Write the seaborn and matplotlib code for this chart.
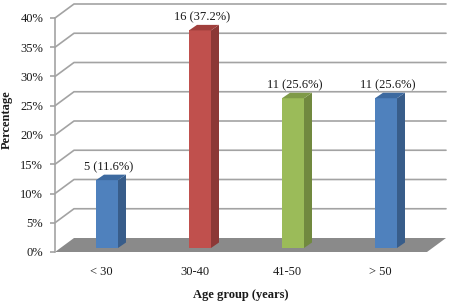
import matplotlib
matplotlib.use("Agg")
import matplotlib.pyplot as plt
import seaborn as sns
from matplotlib.patches import Polygon, Rectangle

# Data
groups = ["< 30", "30-40", "41-50", "> 50"]
percents = [11.6, 37.2, 25.6, 25.6]
counts = [5, 16, 11, 11]
face_colors = ["#4f81bd", "#c0504d", "#9bbb59", "#4f81bd"]
side_colors = ["#385d8a", "#8c3836", "#71893f", "#385d8a"]
top_colors = ["#3d6aa0", "#a03f3c", "#7f9a48", "#3d6aa0"]

sns.set_style("white")
plt.rcParams["font.family"] = ["Liberation Serif", "DejaVu Serif"]

fig = plt.figure(figsize=(4.5, 3.02), dpi=100)
ax = fig.add_axes([55 / 450, 50 / 302, 372 / 450, 234 / 302])

# pixel -> data unit helpers (x: 93 px per category, y: 5.85 px per %)
ux = 372 / 4.0
uy = 234 / 40.0
wall_dx, wall_dy = 19 / ux, 14 / uy      # depth of the back wall
bar_ox, bar_oy = 5.5 / ux, 4 / uy        # bar sits a little behind front plane
bar_dx, bar_dy = 8 / ux, 5.5 / uy        # bar depth

grid_c = "#a3a3a3"
text_c = "#1a1a1a"

# bars
sns.barplot(x=groups, y=percents, hue=groups, palette=face_colors, width=22 / ux,
            legend=False, ax=ax, saturation=1, edgecolor="none", zorder=3)
ax.set_xlim(-0.5, 3.5)
ax.set_ylim(0, 40)
bars = [p for p in ax.patches if isinstance(p, Rectangle)]

# floor
floor = Polygon([(-0.5, 0), (3.5, 0), (3.5 + wall_dx, wall_dy), (-0.5 + wall_dx, wall_dy)],
                closed=True, facecolor="#8a8a8a", edgecolor="none", zorder=1, clip_on=False)
ax.add_patch(floor)

# back wall gridlines with the diagonal connectors
for v in range(5, 45, 5):
    ax.plot([-0.5, -0.5 + wall_dx, 3.5 + wall_dx], [v, v + wall_dy, v + wall_dy],
            color=grid_c, lw=1.2, clip_on=False, zorder=0.5)

for i, p in enumerate(bars):
    x0 = p.get_x() + bar_ox
    w = p.get_width()
    h = p.get_height()
    p.set_x(x0)
    p.set_y(bar_oy)
    y0 = bar_oy
    y1 = bar_oy + h
    side = Polygon([(x0 + w, y0), (x0 + w + bar_dx, y0 + bar_dy),
                    (x0 + w + bar_dx, y1 + bar_dy), (x0 + w, y1)],
                   closed=True, facecolor=side_colors[i], edgecolor="none", zorder=3)
    top = Polygon([(x0, y1), (x0 + w, y1), (x0 + w + bar_dx, y1 + bar_dy), (x0 + bar_dx, y1 + bar_dy)],
                  closed=True, facecolor=top_colors[i], edgecolor="none", zorder=3)
    ax.add_patch(side)
    ax.add_patch(top)
    ax.text(x0 + w / 2 + bar_dx / 4, y1 + bar_dy + 0.2, f"{counts[i]} ({percents[i]}%)",
            ha="center", va="bottom", fontsize=9, color=text_c, zorder=4)

# axes styling
for s in ["top", "right", "bottom"]:
    ax.spines[s].set_visible(False)
ax.spines["left"].set_color(grid_c)
ax.spines["left"].set_linewidth(1.2)
ax.set_yticks(range(0, 45, 5))
ax.set_yticklabels([f"{v}%" for v in range(0, 45, 5)])
ax.tick_params(axis="y", length=3.5, width=1.2, color=grid_c, labelsize=9,
               labelcolor=text_c, pad=5, left=True)
ax.tick_params(axis="x", length=0, labelsize=9, labelcolor=text_c, pad=10)

ax.set_xlabel("Age group (years)", fontsize=9, fontweight="bold", color=text_c)
ax.set_ylabel("Percentage", fontsize=9, fontweight="bold", color=text_c)
ax.xaxis.set_label_coords(0.5, -0.158)
ax.yaxis.set_label_coords(-0.113, 0.564)
ax.patch.set_alpha(0)

fig.savefig("out.png", dpi=100)
